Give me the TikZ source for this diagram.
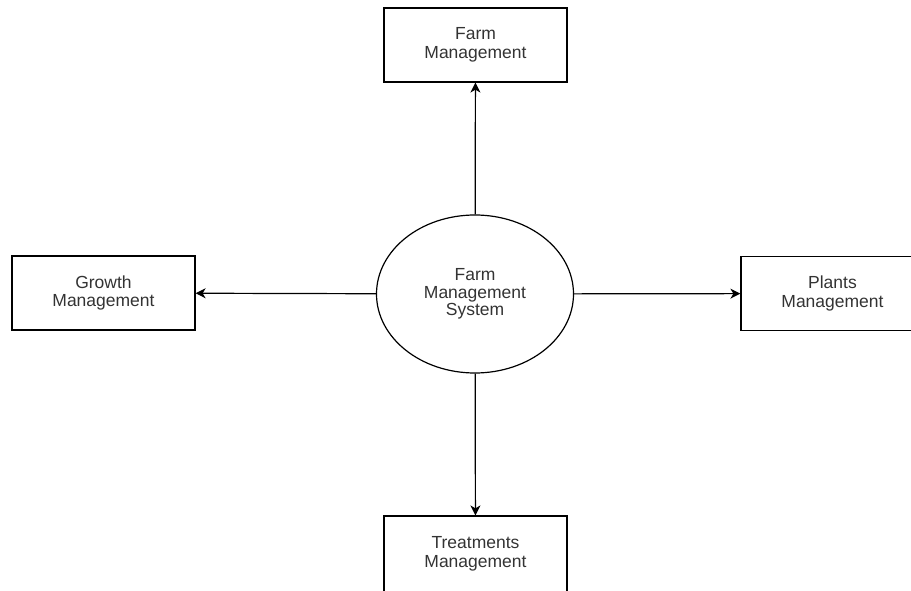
\documentclass[tikz,border=0pt]{standalone}
\usepackage{fontspec}
\setmainfont{Liberation Sans}
\usetikzlibrary{shapes.geometric,arrows.meta}

\begin{document}
\begin{tikzpicture}[x=1pt, y=1pt, >={Stealth[length=10pt,width=10pt,inset=3pt]},
  box/.style={draw, line width=1.2pt, rectangle, minimum width=183pt, minimum height=74pt,
    align=center, text=black!80, font=\fontsize{17.5}{18.5}\selectfont},
  proc/.style={draw, line width=1.2pt, ellipse, minimum width=197pt, minimum height=158pt,
    inner sep=0pt, align=center, text=black!80, font=\fontsize{17.5}{17.5}\selectfont}]
 \useasboundingbox (0,0) rectangle (911,590);
 \node[proc] (FMS) at (475,296) {Farm\\Management\\System};
 \node[box] (FM) at (475.5,545) {Farm\\Management};
 \node[box] (GM) at (103.5,297) {Growth\\Management};
 \node[box] (PM) at (832.5,296.5) {Plants\\Management};
 \node[box, minimum height=76pt] (TM) at (475.5,36) {Treatments\\Management};
 \draw[->, line width=1.2pt] (FMS) to (FM);
 \draw[->, line width=1.2pt] (FMS) to (GM);
 \draw[->, line width=1.2pt] (FMS) to (PM);
 \draw[->, line width=1.2pt] (FMS) to (TM);
\end{tikzpicture}
\end{document}
